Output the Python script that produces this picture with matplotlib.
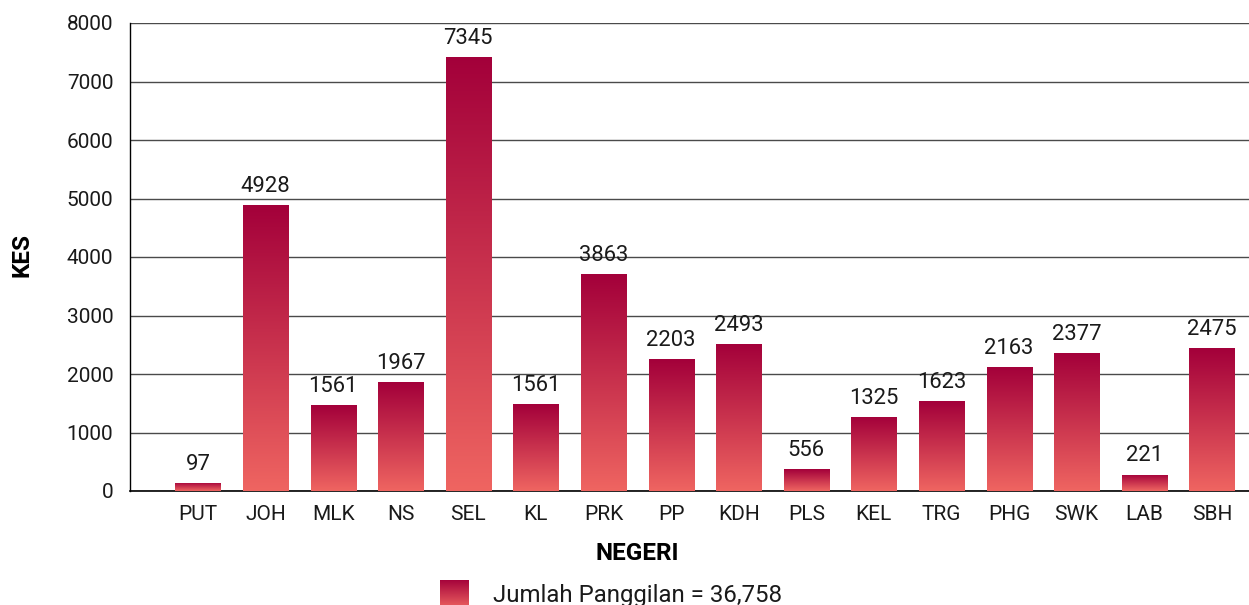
import matplotlib.pyplot as plt
import numpy as np
from matplotlib.colors import LinearSegmentedColormap

plt.rcParams["font.family"] = ["Roboto", "DejaVu Sans"]

states = ["PUT", "JOH", "MLK", "NS", "SEL", "KL", "PRK", "PP",
          "KDH", "PLS", "KEL", "TRG", "PHG", "SWK", "LAB", "SBH"]
# bar heights as drawn in the picture
bar_heights = [137, 4889, 1470, 1863, 7419, 1487, 3709, 2256,
               2513, 376, 1265, 1538, 2120, 2359, 274, 2444]
# printed value labels
value_labels = ["97", "4928", "1561", "1967", "7345", "1561", "3863", "2203",
                "2493", "556", "1325", "1623", "2163", "2377", "221", "2475"]
y_ticks = [0, 1000, 2000, 3000, 4000, 5000, 6000, 7000, 8000]
legend_label = "Jumlah Panggilan = 36,758"

TOP = "#a3003a"
BOTTOM = "#ef6561"
grad_cmap = LinearSegmentedColormap.from_list("bar_grad", [BOTTOM, TOP])
grad = np.linspace(0, 1, 256).reshape(-1, 1)

fig = plt.figure(figsize=(12.49, 6.05), dpi=100)
ax = fig.add_axes([130.3 / 1249, 1 - 491 / 605, 1 - 130.3 / 1249, (491 - 23) / 605])

x = np.arange(len(states))
width = 0.666
bars = ax.bar(x, bar_heights, width=width, color="none", edgecolor="none", zorder=3)

for rect in bars:
    x0 = rect.get_x()
    h = rect.get_height()
    im = ax.imshow(grad, cmap=grad_cmap, origin="lower", aspect="auto",
                   extent=[x0, x0 + rect.get_width(), 0, h], zorder=3,
                   interpolation="bilinear")
    im.set_clip_path(rect)

for xi, h, lab in zip(x, bar_heights, value_labels):
    ax.annotate(lab, (xi, h), xytext=(0, 9.7), textcoords="offset points",
                ha="center", va="baseline", fontsize=15.8, color="#1a1a1a", zorder=4)

ax.set_xlim(-1.0, 15.55)
ax.set_ylim(0, 8000)
ax.set_yticks(y_ticks)
ax.set_yticklabels([str(t) for t in y_ticks])
ax.set_xticks(x)
ax.set_xticklabels(states)
ax.tick_params(axis="both", length=0, labelsize=15, colors="#1a1a1a")
ax.tick_params(axis="y", pad=12.2)
ax.tick_params(axis="x", pad=10)

ax.yaxis.grid(True, color="#4a4a4a", linewidth=1.0, zorder=0)
ax.set_axisbelow(True)
for side in ["top", "right"]:
    ax.spines[side].set_visible(False)
ax.spines["left"].set_color("black")
ax.spines["bottom"].set_color("black")
ax.spines["left"].set_linewidth(1.0)
ax.spines["bottom"].set_linewidth(1.2)

fig.text(22 / 1249, 1 - 255 / 605, "KES", rotation=90, ha="center", va="center",
         fontsize=17.5, fontweight="bold", color="black")
fig.text(637 / 1249, 1 - 553 / 605, "NEGERI", ha="center", va="center",
         fontsize=17.5, fontweight="bold", color="black")

# legend: gradient swatch + label
sw = fig.add_axes([440 / 1249, 1 - 609 / 605, 29 / 1249, 29 / 605])
sw.imshow(grad, cmap=grad_cmap, origin="lower", aspect="auto", interpolation="bilinear")
sw.axis("off")
fig.text(493 / 1249, 1 - 602 / 605, legend_label, ha="left", va="baseline",
         fontsize=17.3, color="#1a1a1a")

fig.savefig("out.png", dpi=100)
